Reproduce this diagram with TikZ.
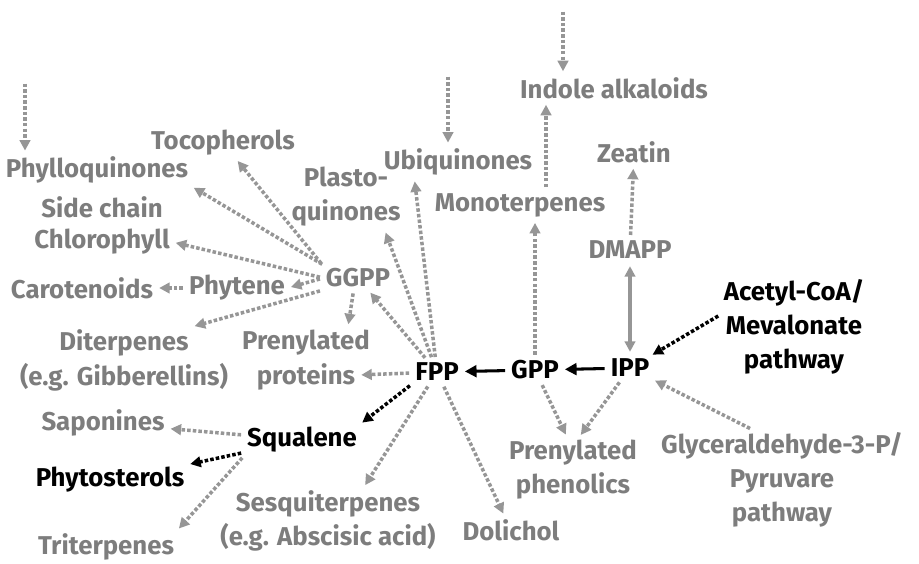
\documentclass[tikz,border=0pt]{standalone}
\usepackage{fontspec}
\setmainfont{Fira Sans}
\usetikzlibrary{arrows.meta}
\definecolor{txtgray}{RGB}{125,125,125}
\definecolor{arrgray}{RGB}{150,150,150}
\begin{document}
\begin{tikzpicture}[x=0.03cm, y=-0.03cm]
	\tikzset{lbl/.style={text=txtgray, font=\fontsize{22}{29}\selectfont\bfseries, align=center, inner sep=2pt},
		key/.style={lbl, text=black},
		dotarr/.style={draw=arrgray, line width=3pt, dash pattern=on 3pt off 1.8pt, -{Triangle[length=9pt, width=9pt]}, shorten >=3pt, shorten <=3pt},
		bdotarr/.style={dotarr, draw=black},
		blkarr/.style={draw=black, line width=2.6pt, -{Triangle[length=10pt, width=10pt]}, shorten >=3pt, shorten <=3pt},
		gryarr/.style={draw=arrgray, line width=2.6pt, {Triangle[length=9pt, width=9pt]}-{Triangle[length=9pt, width=9pt]}, shorten >=4pt, shorten <=4pt}};

	\useasboundingbox (0,0) rectangle (919,564);

	\node[lbl] (phyllo) at (97,170) {Phylloquinones};
	\node[lbl] (side) at (102,207) {Side chain};
	\node[lbl] (chloro) at (102,242) {Chlorophyll};
	\node[lbl] (toco) at (223,143) {Tocopherols};
	\node[lbl] (carot) at (82,288) {Carotenoids};
	\node[lbl] (phytene) at (237,288) {Phytene};
	\node[lbl] (ggpp) at (358,278) {GGPP};
	\node[lbl] (plasto) at (346,197) {Plasto-\\quinones};
	\node[lbl] (ubi) at (458,162) {Ubiquinones};
	\node[lbl] (indole) at (614,88) {Indole alkaloids};
	\node[lbl] (mono) at (520,205) {Monoterpenes};
	\node[lbl] (zeatin) at (634,152) {Zeatin};
	\node[lbl] (dmapp) at (630,250) {DMAPP};
	\node[key] (acetyl) at (794,327) {Acetyl-CoA/\\Mevalonate\\pathway};
	\node[key] (ipp) at (630,368) {IPP};
	\node[key] (gpp) at (535,370) {GPP};
	\node[key] (fpp) at (437,372) {FPP};
	\node[lbl] (diter) at (124,343) {Diterpenes};
	\node[lbl] (gibb) at (124,377) {(e.g. Gibberellins)};
	\node[lbl] (prenyl) at (306,343) {Prenylated};
	\node[lbl] (prot) at (306,377) {proteins};
	\node[lbl] (sapon) at (103,423) {Saponines};
	\node[key] (squal) at (302,440) {Squalene};
	\node[key] (phyto) at (110,480) {Phytosterols};
	\node[lbl] (triter) at (106,547) {Triterpenes};
	\node[lbl] (sesq) at (328,521) {Sesquiterpenes\\(e.g. Abscisic acid)};
	\node[lbl] (dolich) at (511,530) {Dolichol};
	\node[lbl] (phen) at (573,470) {Prenylated\\phenolics};
	\node[lbl] (glyc) at (782,480) {Glyceraldehyde-3-P/\\Pyruvare\\pathway};

	\coordinate (top1) at (25,80);
	\coordinate (top2) at (448,73);
	\coordinate (top3) at (563,8);

	\draw[dotarr] (top1) to (top1 |- phyllo.north);
	\draw[dotarr] (top2) to (top2 |- ubi.north);
	\draw[dotarr] (top3) to (top3 |- indole.north);

	\draw[dotarr] (ggpp.north west) to (toco);
	\draw[dotarr] (ggpp.160) to (phyllo.south east);
	\draw[dotarr] (ggpp.west) to (chloro.east);
	\draw[dotarr] (ggpp.west) to (phytene.east);
	\draw[dotarr] (phytene.west) to (carot.east);
	\draw[dotarr] (ggpp.south west) to (diter.north east);
	\draw[dotarr] (ggpp.250) to (prenyl.20);

	\draw[dotarr] (fpp) to (ggpp);
	\draw[dotarr] (fpp) to (plasto.-40);
	\draw[dotarr] (fpp) to (ubi.200);
	\draw[dotarr] (fpp) to (prot);
	\draw[bdotarr] (fpp.south west) to (squal.north east);
	\draw[dotarr] (fpp) to (sesq.43);
	\draw[dotarr] (fpp) to (dolich);

	\draw[dotarr] (squal) to (sapon);
	\draw[bdotarr] (squal) to (phyto.north east);
	\draw[dotarr] (squal.south west) to (triter.north east);

	\draw[blkarr] (ipp) to (gpp);
	\draw[blkarr] (gpp) to (fpp);
	\draw[gryarr] (ipp) to (dmapp);
	\draw[dotarr] (dmapp) to (zeatin);
	\draw[dotarr] (gpp) to (gpp |- mono.south);
	\draw[dotarr] ([xshift=0.78cm]mono.north) to ([xshift=0.78cm]mono.north |- indole.south);
	\draw[dotarr] (gpp) to (phen.100);
	\draw[dotarr] (ipp) to (phen.80);
	\draw[dotarr] (glyc.120) to (ipp);
	\draw[bdotarr] (acetyl.170) to (ipp);
\end{tikzpicture}
\end{document}
